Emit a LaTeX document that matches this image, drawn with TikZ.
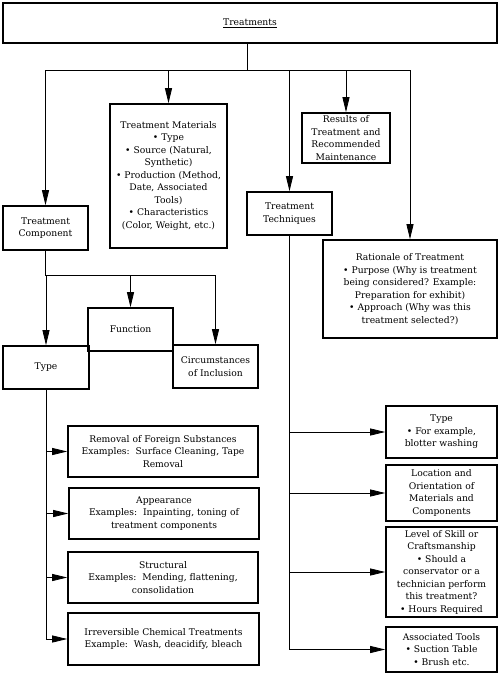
\documentclass[tikz,border=0pt]{standalone}
\usepackage{fontspec}
\setmainfont{DejaVu Serif}
\usepackage{tikz}
\usetikzlibrary{arrows.meta,calc,positioning}

\begin{document}
\begin{tikzpicture}[x=1pt,y=-1pt,font=\fontsize{9.2}{12.5}\selectfont,
  box/.style={draw,line width=1.6pt,align=center,inner sep=0pt},
  conn/.style={line width=0.8pt},
  arr/.style={conn,-{Triangle[length=15pt,width=7pt]}}]
\useasboundingbox (0,0) rectangle (500,680);
\node[box,line width=2.2pt,minimum width=494,minimum height=40] (top) at (250,23) {\underline{Treatments}};
% first level
\node[box,minimum width=85,minimum height=44] (comp) at (45.5,228) {Treatment\\Component};
\node[box,minimum width=117,minimum height=144] (mat) at (168.5,176) {Treatment Materials\\\textbullet\ Type\\\textbullet\ Source (Natural,\\Synthetic)\\\textbullet\ Production (Method,\\Date, Associated\\Tools)\\\textbullet\ Characteristics\\(Color, Weight, etc.)};
\node[box,minimum width=88,minimum height=50] (res) at (346,138) {Results of\\Treatment and\\Recommended\\Maintenance};
\node[box,minimum width=85,minimum height=43] (tech) at (289.5,213.5) {Treatment\\Techniques};
\node[box,minimum width=174,minimum height=98] (rat) at (410,289) {Rationale of Treatment\\\textbullet\ Purpose (Why is treatment\\being considered? Example:\\Preparation for exhibit)\\\textbullet\ Approach (Why was this\\treatment selected?)};
\coordinate (bus) at (247,70);
\draw[conn] (bus |- top.south) -- (bus);
\draw[conn] (comp.north |- bus) -- (rat.north |- bus);
\foreach \n in {comp,mat,res,tech,rat} \draw[arr] (\n.north |- bus) -- (\n.north);
% treatment component
\node[box,minimum width=85,minimum height=43] (func) at (130.5,329.5) {Function};
\node[box,minimum width=86,minimum height=43] (type) at (46,367.5) {Type};
\node[box,minimum width=85,minimum height=43] (circ) at (215.5,366.5) {Circumstances\\of Inclusion};
\coordinate (cbus) at (45.5,275);
\draw[conn] (comp.south) -- (cbus) -- (cbus -| circ.north);
\foreach \n in {type,func,circ} \draw[arr] (\n.north |- cbus) -- (\n.north);
\node[box,minimum width=190,minimum height=51] (rem) at (163,451.5) {Removal of Foreign Substances\\Examples:\ \ Surface Cleaning, Tape\\Removal};
\node[box,minimum width=190,minimum height=51] (app) at (164,513.5) {Appearance\\Examples:\ \ Inpainting, toning of\\treatment components};
\node[box,minimum width=190,minimum height=51] (str) at (163,577.5) {Structural\\Examples:\ \ Mending, flattening,\\consolidation};
\node[box,minimum width=191,minimum height=52] (irr) at (163.5,639) {Irreversible Chemical Treatments\\Example:\ \ Wash, deacidify, bleach};
\draw[conn] (type.south) -- (type.south |- irr.west);
\foreach \n in {rem,app,str,irr} \draw[arr] (type.south |- \n.west) -- (\n.west);
% treatment techniques
\node[box,minimum width=111,minimum height=52] (ttype) at (441.5,432) {Type\\\textbullet\ For example,\\blotter washing};
\node[box,minimum width=111,minimum height=56] (loc) at (441.5,493) {Location and\\Orientation of\\Materials and\\Components};
\node[box,minimum width=111,minimum height=90] (lvl) at (441.5,572) {Level of Skill or\\Craftsmanship\\\textbullet\ Should a\\conservator or a\\technician perform\\this treatment?\\\textbullet\ Hours Required};
\node[box,minimum width=111,minimum height=45] (tools) at (441.5,649.5) {Associated Tools\\\textbullet\ Suction Table\\\textbullet\ Brush etc.};
\draw[conn] (tech.south) -- (tech.south |- tools.west);
\foreach \n in {ttype,loc,lvl,tools} \draw[arr] (tech.south |- \n.west) -- (\n.west);
\end{tikzpicture}
\end{document}
